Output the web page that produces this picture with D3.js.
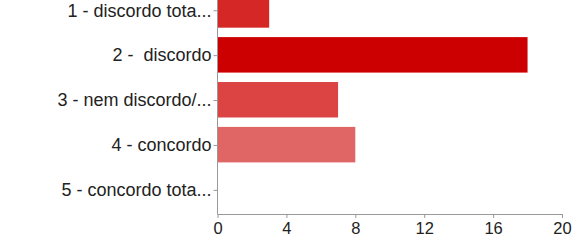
<!DOCTYPE html>
<html><head><meta charset="utf-8">
<script src="https://cdn.jsdelivr.net/npm/d3@7"></script>
<style>body{margin:0;background:#fff}svg{display:block}text{white-space:pre}</style>
</head><body>
<script>
const categories = ["1 - discordo tota...", "2 -  discordo", "3 - nem discordo/...", "4 - concordo", "5 - concordo tota..."];
const values = [3, 18, 7, 8, 0];
const barColors = ["#d62727", "#cc0000", "#dc4444", "#e06666", "#e88888"];
const xTicks = [0, 4, 8, 12, 16, 20];

const W = 581, H = 243;
const svg = d3.select("body").append("svg").attr("width", W).attr("height", H);

const x = d3.scaleLinear().domain([0, 20]).range([217.5, 562]);
const y = d3.scaleBand().domain(categories).range([-12.5, 212]).paddingInner(0.21).paddingOuter(0.105);

// bars
svg.selectAll("rect.bar").data(categories).join("rect")
  .attr("class", "bar")
  .attr("x", x(0))
  .attr("y", d => y(d))
  .attr("width", (d, i) => x(values[i]) - x(0))
  .attr("height", y.bandwidth())
  .attr("fill", (d, i) => barColors[i]);

// left axis
const yAxis = d3.axisLeft(y).tickSize(4).tickPadding(2);
const gy = svg.append("g").attr("transform", `translate(${x(0)},0.8)`).call(yAxis);
gy.select(".domain").remove();
gy.selectAll(".tick line").attr("stroke", "#999");
gy.selectAll(".tick text").attr("font-family", "Liberation Sans, Arial, sans-serif")
  .attr("font-size", 18).attr("fill", "#222").attr("xml:space", "preserve");
svg.append("line").attr("x1", x(0)).attr("x2", x(0)).attr("y1", 0).attr("y2", 214.5)
  .attr("stroke", "#999").attr("stroke-width", 1);

// bottom axis
const xAxis = d3.axisBottom(x).tickValues(xTicks).tickSize(4).tickPadding(4).tickSizeOuter(0);
const gx = svg.append("g").attr("transform", "translate(0,214)").call(xAxis);
gx.select(".domain").attr("stroke", "#999");
gx.selectAll(".tick line").attr("stroke", "#999");
gx.selectAll(".tick text").attr("font-family", "Liberation Sans, Arial, sans-serif")
  .attr("font-size", 16.5).attr("fill", "#222");
</script>
</body></html>
